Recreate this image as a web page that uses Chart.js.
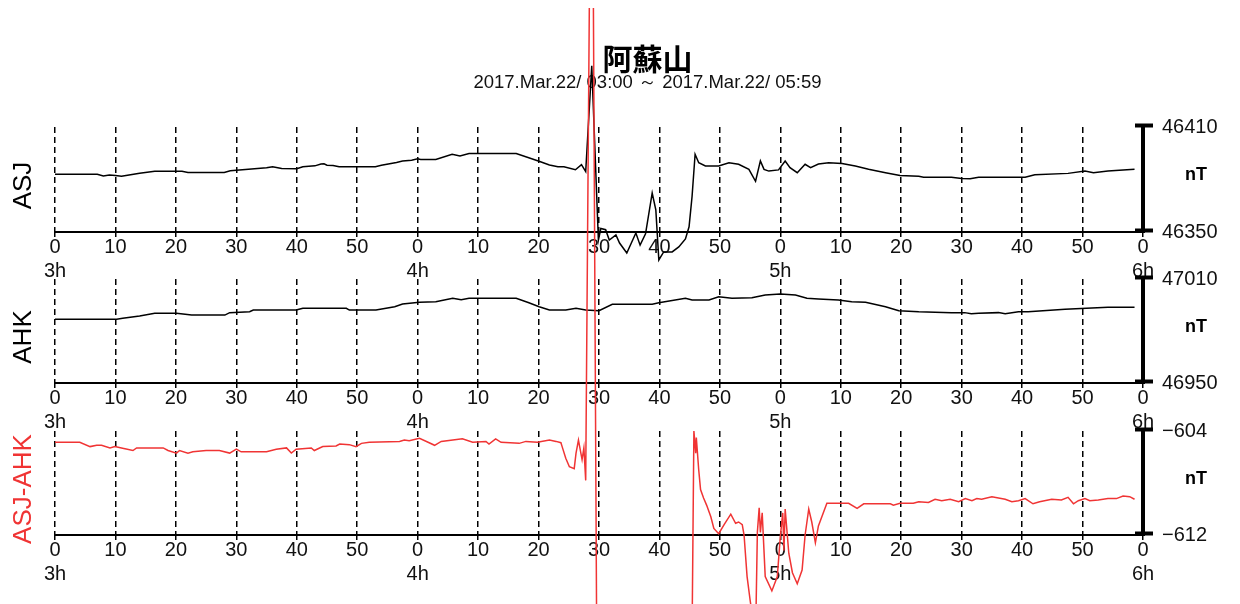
<!DOCTYPE html>
<html>
<head>
<meta charset="utf-8">
<title>阿蘇山</title>
<script src="https://cdn.jsdelivr.net/npm/chart.js@4.4.1/dist/chart.umd.min.js"></script>
<style>
  html, body { margin: 0; padding: 0; background: #fff; }
  #wrap { position: relative; width: 1240px; height: 604px; overflow: hidden; }
  #wrap canvas { position: absolute; left: 0; top: 8px; }
</style>
</head>
<body>
<div id="wrap">
  <canvas id="asjChart" width="1240" height="596"></canvas>
  <canvas id="ahkChart" width="1240" height="596"></canvas>
  <canvas id="diffChart" width="1240" height="596"></canvas>
</div>
<script>
  const chartTitle = "阿蘇山";
  const chartSubtitle = "2017.Mar.22/ 03:00 ～ 2017.Mar.22/ 05:59";
  const minuteLabels = ["0", "10", "20", "30", "40", "50"];
  const hourLabels = ["3h", "4h", "5h", "6h"];
  const stationNames = ["ASJ", "AHK", "ASJ-AHK"];
  const unitLabel = "nT";

  const asjRange = [46350, 46410];
  const ahkRange = [46950, 47010];
  const diffRange = [-612, -604];

  // [minute after 03:00, nT]
  const asjPoints = [
    [0, 46383], [7, 46383], [8, 46382], [9, 46382.5], [10, 46382.3], [11, 46381.8], [12, 46382.4],
    [14, 46383.6], [16.5, 46384.7], [21, 46384.7], [22, 46384], [28, 46384], [29, 46385], [30, 46385.3],
    [32.5, 46386], [35, 46386.7], [36, 46387.3], [37.5, 46386.3], [40, 46386.2], [41, 46387.3],
    [43, 46387.8], [44, 46388.8], [44.5, 46389], [45, 46388.2], [46, 46388], [47, 46387.3], [53, 46387.3],
    [54, 46388.1], [56.5, 46389.7], [57.5, 46390.6], [59, 46391], [60, 46391.8], [60.5, 46391.5],
    [63, 46391.5], [65.7, 46394.4], [67, 46393.5], [68.5, 46394.8], [76.3, 46394.8], [78.5, 46392.3],
    [80.2, 46390.3], [81.8, 46388.3], [83.2, 46387.3], [84.2, 46387.3], [86.1, 46385.6], [87.1, 46388.5],
    [87.8, 46384.5], [88.8, 46445], [89.9, 46345.4], [90.3, 46352], [91.1, 46351.3], [91.7, 46345.4],
    [92.8, 46348.3], [93.4, 46343.7], [94.6, 46338], [96.1, 46349.4], [96.8, 46342.5], [97.7, 46349],
    [98.8, 46372.3], [99.4, 46362.7], [99.9, 46334], [100.7, 46338.6], [102.1, 46338.6], [103.2, 46341.5],
    [104.3, 46346], [104.9, 46353], [105.4, 46370.4], [105.9, 46394.4], [106.5, 46389.6], [107.6, 46387.7],
    [109.8, 46387.7], [111.5, 46389.6], [113.1, 46388.7], [114.8, 46385.8], [115.9, 46379], [116.7, 46390.6],
    [117.3, 46385.8], [118.1, 46384.8], [119.7, 46385.5], [120.8, 46390.6], [121.6, 46386.8], [122.8, 46383.9],
    [124.1, 46388.7], [125, 46386.8], [126.3, 46388.8], [128, 46389.6], [130.2, 46389.2], [132.4, 46387.7],
    [134.6, 46385.8], [137.4, 46383.9], [139.8, 46382.3], [142.9, 46381.9], [143.7, 46381.3], [148.3, 46381.3],
    [150, 46380.6], [151.4, 46380.4], [152.8, 46381.3], [160.5, 46381.3], [162.1, 46382.7], [167.6, 46383.5],
    [170.4, 46384.8], [171.8, 46383.9], [174.2, 46384.8], [178.6, 46385.8]
  ];

  const ahkPoints = [
    [0, 46986.8], [10.2, 46986.8], [11.2, 46987.3], [14, 46988.7], [16.5, 46990.2], [20.1, 46990.2],
    [22.6, 46989.2], [28.1, 46989.2], [28.9, 46990.6], [32.2, 46991.1], [32.8, 46992.1], [39.9, 46992.1],
    [41, 46993.1], [48.2, 46993.1], [48.7, 46992.1], [53.1, 46992.1], [56.2, 46994], [57.5, 46995.6],
    [60.3, 46996.6], [63, 46996.9], [65.8, 46998.9], [67.2, 46998.1], [68.5, 46998.9], [76.3, 46998.9],
    [78.4, 46996.3], [80.1, 46994], [81.8, 46992.1], [84.5, 46992.1], [86.2, 46993.1], [87.8, 46992.1],
    [90, 46991.7], [92.2, 46995.4], [98.8, 46995.4], [99.9, 46996.3], [104.3, 46998.9], [105.4, 46997.9],
    [108.2, 46997.9], [109.8, 46999.8], [112, 46998.9], [115.3, 46999.2], [117.5, 47000.8], [120, 47001.4],
    [122.5, 47000.8], [124.4, 46998.9], [126.3, 46998.5], [129.6, 46997.9], [131.8, 46996.9], [134.1, 46996.6],
    [137.4, 46994], [139.6, 46991.7], [142.9, 46991.1], [148.3, 46990.6], [150.5, 46990.6], [151.6, 46990],
    [152.8, 46990.2], [156.1, 46990.6], [157.2, 46990], [159.4, 46991.1], [161, 46991.1], [167.1, 46992.5],
    [174.2, 46993.7], [178.6, 46993.7]
  ];

  const diffPoints = [
    [0, -604.87], [4.1, -604.87], [5.8, -605.2], [6.9, -605.1], [7.7, -605.1], [9.1, -605.3], [9.9, -605.2],
    [11, -605.3], [12.9, -605.5], [13.5, -605.3], [17.9, -605.3], [18.7, -605.5], [20.1, -605.7], [20.6, -605.5],
    [22, -605.7], [22.8, -605.6], [25, -605.5], [27.2, -605.5], [28.9, -605.7], [30, -605.4], [30.8, -605.6],
    [35, -605.6], [36.6, -605.4], [38.3, -605.3], [39.1, -605.7], [39.9, -605.4], [42.4, -605.3], [42.9, -605.5],
    [44.3, -605.2], [46.5, -605.15], [47.1, -605], [48.7, -605.05], [49.8, -605.2], [50.7, -604.95], [52, -604.87],
    [57, -604.8], [57.8, -604.7], [58.6, -604.75], [60.3, -604.56], [61.9, -604.9], [62.8, -605.1], [63.9, -604.8],
    [67.4, -604.6], [69.1, -604.87], [71.3, -604.8], [71.8, -605], [72.9, -604.6], [73.8, -604.87], [76.8, -604.95],
    [77.9, -604.8], [79.8, -604.87], [81.8, -604.7], [82.9, -604.8], [83.7, -604.9], [83.9, -605.2], [84.5, -606.1],
    [85.1, -606.75], [85.9, -606.9], [86.2, -605.7], [86.6, -604.7], [87.2, -606.2], [87.5, -605.3], [87.8, -607.8],
    [88.8, -547], [89.9, -644.7], [92, -650], [95, -658], [97, -653], [98.8, -623], [99.9, -662], [102, -658],
    [104.3, -653], [104.9, -645.5], [105.7, -604], [106, -605.7], [106.1, -604.5], [106.5, -607], [106.8, -608.5],
    [107.3, -609.15], [107.8, -609.7], [108.5, -610.6], [109, -611.5], [109.8, -611.9], [110.7, -611.2],
    [111.8, -610.4], [112.6, -611.1], [113.1, -611], [113.7, -611.2], [114, -612], [114.5, -615.2], [115, -617],
    [115.9, -620], [116.2, -611.8], [116.5, -609.9], [116.7, -611.8], [117, -610.3], [117.5, -615.2],
    [118.6, -616.3], [119.5, -615.2], [120, -612.1], [120.4, -610.3], [120.6, -613.2], [120.8, -610],
    [121.4, -613.4], [122, -614.9], [122.8, -615.75], [123.6, -614.7], [124.1, -612], [124.7, -610],
    [125.2, -611], [125.8, -612.6], [126.3, -611.3], [127.7, -609.56], [131.3, -609.56], [132.7, -609.95],
    [133.8, -609.6], [138.2, -609.6], [138.7, -609.7], [139.8, -609.56], [142, -609.56], [142.9, -609.44],
    [144.5, -609.5], [145.6, -609.25], [146.7, -609.36], [148.1, -609.25], [149.5, -609.44], [150.6, -609.2],
    [151.7, -609.36], [152.5, -609.2], [153.3, -609.25], [155, -609.05], [157.2, -609.25], [158.3, -609.44],
    [159.4, -609.36], [160.5, -609.2], [161.8, -609.6], [162.9, -609.44], [164.9, -609.25], [166.5, -609.3],
    [167.6, -609.1], [168.5, -609.6], [169.3, -609.36], [170.4, -609.2], [171.2, -609.36], [172.6, -609.3],
    [174.2, -609.2], [175.6, -609.2], [176.7, -609], [177.8, -609.05], [178.6, -609.25]
  ];

  const FONT = "'Liberation Sans', Arial, sans-serif";
  const BLACK = "#000";
  const RED = "rgb(240, 52, 52)";
  const CANVAS_TOP = 8;
  const CANVAS_H = 596;
  const PLOT_LEFT = 55;
  const PLOT_RIGHT = 1143;
  const X_AXIS_HEIGHT = 50;

  Chart.defaults.font.family = FONT;
  Chart.defaults.color = BLACK;

  function xTickLabel(value) {
    const minute = value % 60;
    const label = minuteLabels[minute / 10];
    if (minute === 0) return [label, hourLabels[value / 60]];
    return label;
  }

  // station name on the left, unit on the right, end caps of the value axis
  const panelDecor = {
    id: "panelDecor",
    afterDraw(chart, args, opts) {
      const { ctx, chartArea, scales } = chart;
      const y = scales.y;
      const mid = (chartArea.top + chartArea.bottom) / 2;
      ctx.save();
      ctx.strokeStyle = BLACK;
      ctx.lineWidth = 4;
      [y.min, y.max].forEach((v) => {
        const py = Math.round(y.getPixelForValue(v)) - 1.5;
        ctx.beginPath();
        ctx.moveTo(chartArea.right - 8, py);
        ctx.lineTo(chartArea.right + 10, py);
        ctx.stroke();
      });
      ctx.fillStyle = BLACK;
      ctx.font = `bold 18px ${FONT}`;
      ctx.textAlign = "center";
      ctx.textBaseline = "middle";
      ctx.fillText(unitLabel, 1196, mid - 4);
      ctx.translate(24, mid + 6);
      ctx.rotate(-Math.PI / 2);
      ctx.fillStyle = opts.color;
      ctx.font = `26px ${FONT}`;
      ctx.fillText(opts.name, 0, 0);
      ctx.restore();
    }
  };

  function makePanel(canvasId, points, range, name, colour, top, bottom, withTitle) {
    const ctx = document.getElementById(canvasId).getContext("2d");
    const titleBlock = withTitle ? 30 + 18.5 + 34.5 : 0;
    return new Chart(ctx, {
      type: "line",
      data: {
        datasets: [{
          label: name,
          data: points.map(([x, y]) => ({ x, y })),
          borderColor: colour,
          borderWidth: 1.5,
          pointRadius: 0,
          tension: 0,
          fill: false,
          clip: false
        }]
      },
      options: {
        responsive: false,
        animation: false,
        events: [],
        layout: {
          padding: {
            left: PLOT_LEFT,
            right: 0,
            top: top - CANVAS_TOP - titleBlock,
            bottom: CANVAS_H - (bottom - CANVAS_TOP) - X_AXIS_HEIGHT
          }
        },
        scales: {
          x: {
            type: "linear",
            min: 0,
            max: 180,
            afterFit(scale) { scale.height = X_AXIS_HEIGHT; },
            grid: { color: BLACK, lineWidth: 1.5, drawTicks: true, tickLength: 5, tickColor: BLACK, tickWidth: 1.5 },
            border: { display: true, color: BLACK, width: 2, dash: [6, 4] },
            ticks: {
              stepSize: 10,
              autoSkip: false,
              maxRotation: 0,
              padding: -2,
              color: "#111",
              font: { size: 20, lineHeight: 1.2 },
              callback: xTickLabel
            }
          },
          y: {
            position: "right",
            min: range[0],
            max: range[1],
            afterFit(scale) { scale.width = 1240 - PLOT_RIGHT; },
            afterBuildTicks(scale) {
              scale.ticks = [{ value: range[0] }, { value: range[1] }];
            },
            grid: { display: false, drawTicks: false },
            border: { display: true, color: BLACK, width: 4 },
            ticks: {
              autoSkip: false,
              padding: 19,
              color: "#111",
              font: { size: 20 },
              callback: (v) => String(v).replace("-", "\u2212")
            }
          }
        },
        plugins: {
          legend: { display: false },
          tooltip: { enabled: false },
          title: {
            display: withTitle,
            text: chartTitle,
            color: BLACK,
            padding: 0,
            font: { family: "'Noto Sans CJK JP', sans-serif", size: 30, weight: "bold", lineHeight: 1 }
          },
          subtitle: {
            display: withTitle,
            text: chartSubtitle,
            color: "#111",
            padding: { top: 0, bottom: 34.5 },
            font: { family: FONT, size: 18.5, lineHeight: 1 }
          },
          panelDecor: { name, color: colour === RED ? RED : BLACK }
        }
      },
      plugins: [panelDecor]
    });
  }

  makePanel("asjChart", asjPoints, asjRange, stationNames[0], BLACK, 127, 232, true);
  makePanel("ahkChart", ahkPoints, ahkRange, stationNames[1], BLACK, 279, 383, false);
  makePanel("diffChart", diffPoints, diffRange, stationNames[2], RED, 431, 535, false);
</script>
</body>
</html>
